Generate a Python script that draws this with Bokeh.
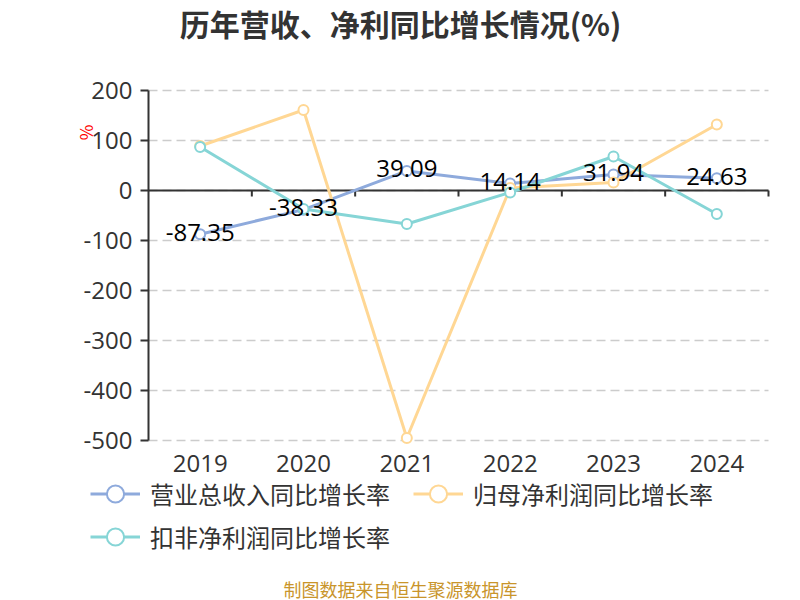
import math
from bokeh.plotting import figure
from bokeh.models import (ColumnDataSource, LinearAxis, FixedTicker, Label, LabelSet,
                          Legend, LegendItem, Range1d)
from bokeh.core.properties import value
from bokeh.embed import file_html
from bokeh.resources import INLINE

years = ["2019", "2020", "2021", "2022", "2023", "2024"]
revenue_growth = [-87.35, -38.33, 39.09, 14.14, 31.94, 24.63]
net_profit_growth = [89, 161, -495, 5, 16, 132]
deducted_profit_growth = [87, -37, -67, -4, 68, -47]
y_ticks = [-500, -400, -300, -200, -100, 0, 100, 200]

series_names = ["营业总收入同比增长率", "归母净利润同比增长率", "扣非净利润同比增长率"]
colors = ["#8eaadc", "#ffd794", "#86d5d6"]
CJK = "Noto Sans CJK SC"
NUM = "Open Sans"

# canvas and plot-area geometry (pixels)
W, H = 800, 600
PL, PR, PT, PB = 148, 768, 90, 440
TICK_PX = 6

n = len(years)
y_min, y_max = min(y_ticks), max(y_ticks)
xppu = (PR - PL) / n
yppu = (PB - PT) / (y_max - y_min)
x_lo, x_hi = -0.5, n - 0.5

idx = list(range(n))
source = ColumnDataSource(dict(
    x=idx,
    rev=revenue_growth,
    net=net_profit_growth,
    ded=deducted_profit_growth,
    rev_label=["%.2f" % v for v in revenue_growth],
))

p = figure(width=W, height=H, min_border=0,
           x_axis_location=None, y_axis_location=None,
           x_range=Range1d(x_lo - PL / xppu, x_hi + (W - PR) / xppu),
           y_range=Range1d(y_min - (H - PB) / yppu, y_max + PT / yppu),
           output_backend="svg", toolbar_location=None)
p.outline_line_color = None
p.background_fill_color = "white"
p.border_fill_color = "white"
p.xgrid.visible = False
p.ygrid.visible = False

# dashed horizontal grid lines across the plot area
grid_src = ColumnDataSource(dict(y=y_ticks, x0=[x_lo] * len(y_ticks), x1=[x_hi] * len(y_ticks)))
p.segment(x0="x0", x1="x1", y0="y", y1="y", source=grid_src,
          line_color="#cccccc", line_width=1.5, line_dash="9 5")

# category axis line at zero, with ticks at the category boundaries
p.segment(x0=[x_lo], x1=[x_hi], y0=[0], y1=[0], line_color="#333333", line_width=2)
bounds_x = [i + 0.5 for i in range(n)]
p.segment(x0=bounds_x, x1=bounds_x, y0=[0] * n, y1=[-TICK_PX / yppu] * n,
          line_color="#333333", line_width=2)

# y axis
ya = LinearAxis(fixed_location=x_lo, bounds=(y_min, y_max),
                ticker=FixedTicker(ticks=y_ticks),
                major_label_overrides={v: str(v) for v in y_ticks},
                axis_line_color="#333333", axis_line_width=2,
                major_tick_line_color="#333333", major_tick_line_width=2,
                major_tick_out=8, major_tick_in=0, minor_tick_out=0, minor_tick_in=0,
                major_label_standoff=8, major_label_text_font=NUM,
                major_label_text_font_size="24px", major_label_text_color="#333333")
p.add_layout(ya, "left")

# category labels at the bottom of the plot area
xa = LinearAxis(fixed_location=y_min, bounds=(x_lo, x_hi),
                ticker=FixedTicker(ticks=idx),
                major_label_overrides={i: y for i, y in enumerate(years)},
                axis_line_alpha=0, major_tick_out=0, major_tick_in=0,
                minor_tick_out=0, minor_tick_in=0, major_label_standoff=14,
                major_label_text_font=NUM, major_label_text_font_size="24px",
                major_label_text_color="#333333")
p.add_layout(xa, "below")

items = []
for col, name, c in zip(["rev", "net", "ded"], series_names, colors):
    l = p.line("x", col, source=source, line_color=c, line_width=3)
    s = p.scatter("x", col, source=source, marker="circle", size=10,
                  fill_color="white", line_color=c, line_width=2)
    items.append(LegendItem(label=name, renderers=[l, s]))

labels = LabelSet(x="x", y="rev", text="rev_label", source=source,
                  text_align="center", text_baseline="middle", y_offset=2,
                  text_font=value(NUM), text_font_size="24px", text_color="#000000")
p.add_layout(labels)

legend = Legend(items=items, location=(90, H - 558), orientation="horizontal", ncols=2,
                glyph_width=50, glyph_height=43, label_standoff=10, label_width=263,
                spacing=0, padding=0, margin=0,
                label_text_font=CJK, label_text_font_size="24px",
                label_text_color="#333333",
                border_line_alpha=0, background_fill_alpha=0)
p.add_layout(legend, "center")

p.add_layout(Label(x=W / 2, y=H - 22, x_units="screen", y_units="screen",
                   text="历年营收、净利同比增长情况(%)", text_align="center",
                   text_baseline="middle", text_font=CJK, text_font_size="30px",
                   text_font_style="bold", text_color="#333333"))
p.add_layout(Label(x=W / 2, y=H - 588, x_units="screen", y_units="screen",
                   text="制图数据来自恒生聚源数据库", text_align="center",
                   text_baseline="middle", text_font=CJK, text_font_size="18px",
                   text_color="#c9952b"))
p.add_layout(Label(x=85, y=H - 132, x_units="screen", y_units="screen",
                   text="%", angle=math.pi / 2, text_align="center",
                   text_baseline="middle", text_font=CJK, text_font_size="17px",
                   text_color="#ff0000"))

open("out.html", "w").write(file_html(p, INLINE))
